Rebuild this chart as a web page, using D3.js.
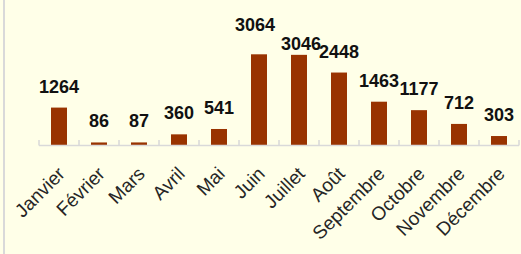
<!DOCTYPE html>
<html><head><meta charset="utf-8">
<script src="https://cdn.jsdelivr.net/npm/d3@7"></script>
<style>html,body{margin:0;padding:0;background:#FFFFE8;overflow:hidden}</style>
</head><body>
<script>
const months = ["Janvier","Février","Mars","Avril","Mai","Juin","Juillet","Août","Septembre","Octobre","Novembre","Décembre"];
const values = [1264,86,87,360,541,3064,3046,2448,1463,1177,712,303];

const W = 521, H = 254;
const svg = d3.select("body").append("svg").attr("width", W).attr("height", H);
svg.append("rect").attr("width", W).attr("height", H).attr("fill", "#FFFFE8");
svg.append("line").attr("x1", 4).attr("x2", 4).attr("y1", 0).attr("y2", H)
  .attr("stroke", "#D9D9D9").attr("stroke-width", 2);

const x = d3.scaleBand().domain(months).range([39, 519]).paddingInner(0.6).paddingOuter(0.3);
const y = d3.scaleLinear().domain([0, 3500]).range([145, 41.4]);

// bars
svg.append("g").selectAll("rect").data(values).join("rect")
  .attr("x", (d, i) => x(months[i]))
  .attr("width", x.bandwidth())
  .attr("y", d => y(d))
  .attr("height", d => y(0) - y(d))
  .attr("fill", "#993300");

// axis line + inside ticks
const step = x.step();
const axisG = svg.append("g");
axisG.append("line").attr("x1", 39).attr("x2", 519).attr("y1", 145.5).attr("y2", 145.5)
  .attr("stroke", "#D9D9D9").attr("stroke-width", 1.5);
axisG.selectAll("line.t").data(d3.range(months.length + 1)).join("line").attr("class", "t")
  .attr("x1", i => 39 + i * step).attr("x2", i => 39 + i * step)
  .attr("y1", 140).attr("y2", 145.5)
  .attr("stroke", "#D9D9D9").attr("stroke-width", 1.5);

// category labels rotated
svg.append("g").selectAll("text").data(months).join("text")
  .attr("transform", d => `translate(${x(d) + x.bandwidth() / 2 - 5},163) rotate(-45)`)
  .attr("text-anchor", "end")
  .attr("dy", "0.9em")
  .attr("font-family", "Liberation Sans, Arial, sans-serif")
  .attr("font-size", 19)
  .attr("fill", "#262626")
  .text(d => d);

// value labels (small manual nudges as in the original)
const nudge = {5: [-4, -8], 6: [2, 10]};
svg.append("g").selectAll("text").data(values).join("text")
  .attr("x", (d, i) => x(months[i]) + x.bandwidth() / 2 + (nudge[i] ? nudge[i][0] : 0))
  .attr("y", (d, i) => y(d) - 15 + (nudge[i] ? nudge[i][1] : 0))
  .attr("text-anchor", "middle")
  .attr("font-family", "Liberation Sans, Arial, sans-serif")
  .attr("font-weight", "bold")
  .attr("font-size", 18)
  .attr("fill", "#111")
  .text(d => d);
</script>
</body></html>
